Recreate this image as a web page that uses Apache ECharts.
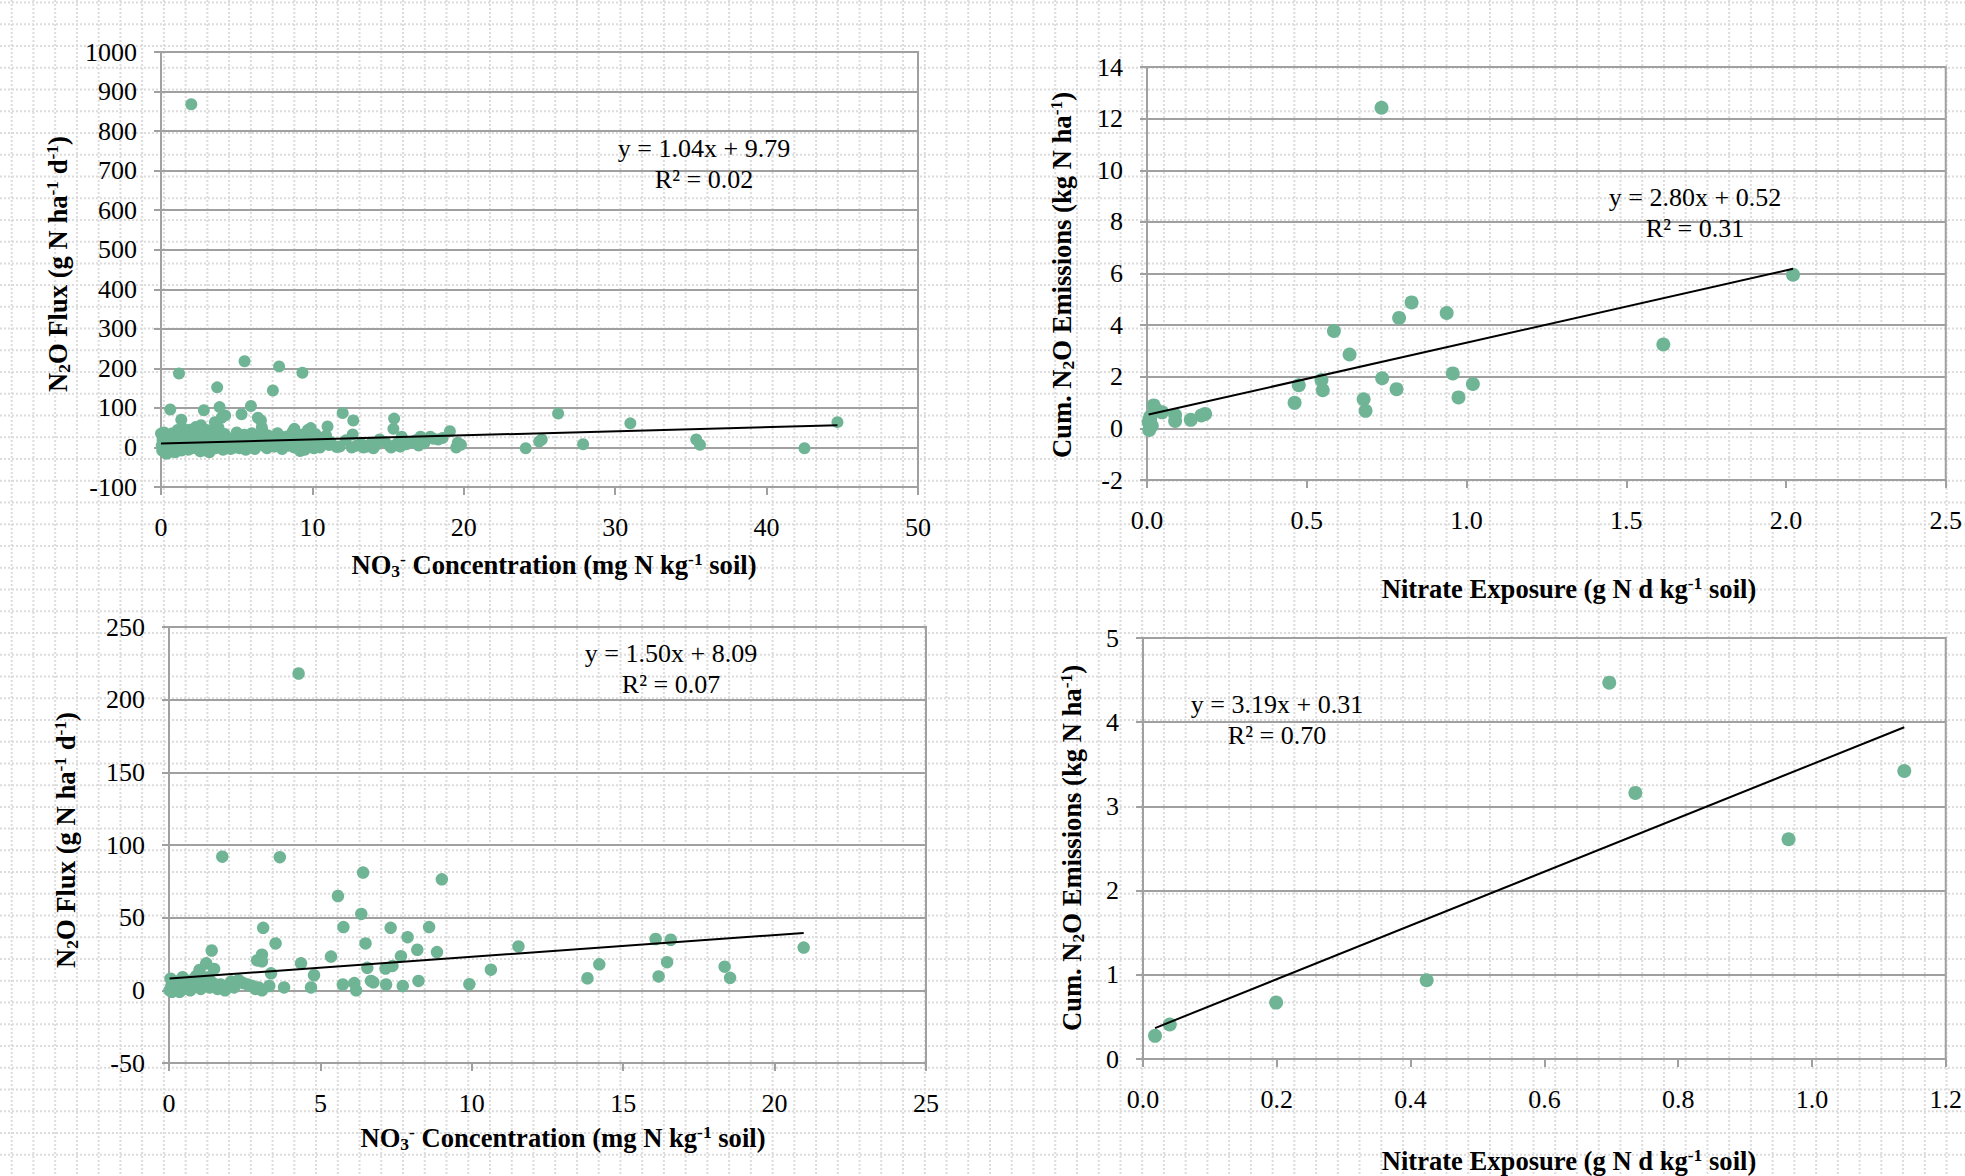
<!DOCTYPE html>
<html><head><meta charset="utf-8">
<script src="https://cdn.jsdelivr.net/npm/echarts@6/dist/echarts.min.js"></script>
<style>html,body{margin:0;padding:0;background:#fff}#c{width:1965px;height:1176px}</style>
</head><body><div id="c"></div>
<script>
// ---------- DATA ----------
// Panel 1: NO3- concentration vs N2O flux (all sites)
const fluxVsNo3All = [
[2.0,868],[1.19,187],[5.52,218],[7.8,205],[9.34,189],[3.71,152],[7.39,144],[0.61,96],[2.83,94],[3.87,102],
[5.94,105],[5.32,84],[4.24,81],[6.4,75],[6.6,68],[12.0,87],[12.7,68],[1.34,70],[2.64,56],[3.56,64],
[4.0,75],[6.66,51],[11.0,53],[15.4,73],[15.35,47],[12.66,33],[4.95,30],[8.81,47],[9.89,49],[7.87,28],
[5.67,26],[0.0,35],[0.3,30],[11.6,1],[12.6,0],[9.19,-9],[0.35,-16],[0.94,-12],[3.07,-9],[13.37,0],
[14.0,0],[14.5,18],[15.2,0],[26.23,86],[31.0,61],[44.68,64],[42.5,-2],[35.35,20],[35.6,7],[27.88,8],
[24.98,15],[25.15,20],[24.09,-2],[19.81,7],[19.5,0],[19.08,41],[18.31,20],[17.79,27],[17.14,27],[17.02,5],
[15.9,27],[14.44,20],[14.03,-2],
[0.05,5],[0.08,-8],[0.1,18],[0.12,28],[0.15,-3],[0.18,10],[0.2,38],[0.22,2],[0.25,-12],[0.28,22],
[0.3,14],[0.35,-5],[0.38,30],[0.4,6],[0.45,-14],[0.48,12],[0.5,25],[0.55,0],[0.6,-6],[0.65,16],
[0.7,35],[0.75,4],[0.8,-10],[0.85,20],[0.9,8],[0.95,-2],[1.0,28],[1.05,12],[1.1,44],[1.15,-4],
[1.2,18],[1.25,6],[1.3,32],[1.35,-8],[1.4,50],[1.45,10],[1.5,22],[1.6,0],[1.65,38],[1.7,14],
[1.8,-6],[1.85,26],[1.9,45],[2.0,8],[2.1,-2],[2.15,30],[2.2,16],[2.3,52],[2.4,4],[2.5,24],
[2.6,-10],[2.7,36],[2.75,12],[2.8,-4],[2.9,20],[3.0,44],[3.1,2],[3.2,-12],[3.3,28],[3.4,10],
[3.5,40],[3.6,-2],[3.7,18],[3.8,50],[3.9,6],[4.0,26],[4.1,-6],[4.2,34],[4.3,12],[4.4,2],
[4.5,22],[4.6,-4],[4.7,8],[4.8,16],[4.9,0],[5.0,38],[5.1,10],[5.2,-2],[5.3,24],[5.4,6],
[5.5,32],[5.6,-6],[5.7,14],[5.8,2],[5.9,20],[6.0,36],[6.1,8],[6.2,-4],[6.3,28],[6.5,12],
[6.7,42],[6.8,4],[6.9,20],[7.0,-2],[7.1,30],[7.3,10],[7.5,2],[7.6,22],[7.7,36],[7.9,6],
[8.0,-4],[8.1,16],[8.3,28],[8.4,4],[8.5,12],[8.7,40],[8.8,0],[9.0,20],[9.1,8],[9.3,32],
[9.5,-6],[9.6,14],[9.7,44],[9.8,4],[10.0,24],[10.1,-2],[10.2,34],[10.4,10],[10.5,0],[10.7,20],
[10.9,30],[11.1,6],[11.2,14],
[11.8,2],[12.2,18],[12.9,4],[13.2,10],[13.6,2],[13.9,12],[14.2,6],[14.8,14],[15.1,4],[15.6,10],
[15.8,2],[16.2,8],[16.5,14],[16.8,18],[17.4,12],[18.0,22],[18.6,24],[19.6,12]
];
// Panel 2: nitrate exposure vs cumulative N2O (all sites)
const cumVsExposureAll = [
[0.734,12.42],[2.022,5.95],[1.616,3.25],[0.828,4.88],[0.789,4.28],[0.938,4.47],[0.585,3.77],[0.634,2.86],
[0.736,1.94],[0.957,2.13],[1.020,1.72],[0.781,1.52],[0.975,1.20],[0.546,1.87],[0.550,1.48],[0.475,1.67],
[0.462,0.99],[0.678,1.13],[0.684,0.68],[0.182,0.56],[0.17,0.5],[0.137,0.33],[0.088,0.29],[0.088,0.52],
[0.047,0.62],[0.021,0.89],[0.03,0.7],[0.01,0.36],[0.007,-0.06],[0.005,0.25],[0.01,0.45],[0.015,0.1]
];
// Panel 3: NO3- concentration vs N2O flux (subset)
const fluxVsNo3Sub = [
[4.28,218],[1.76,92],[3.66,91.6],[6.41,81],[9.01,76.4],[5.58,64.9],[6.35,52.6],[3.11,43],[5.76,43.5],[7.32,43],
[8.59,43.5],[7.88,36.6],[6.49,32.3],[3.52,32.3],[11.54,30.2],[20.96,29.4],[16.07,35.3],[16.57,34.8],[1.41,27.4],[8.2,27.9],
[8.85,26.3],[7.66,23.5],[5.35,23.2],[3.07,24.5],[2.91,20.6],[3.07,20],[14.21,17.9],[16.45,19.4],[18.35,16.3],[18.53,8.6],
[13.82,8.3],[16.17,9.6],[10.63,14.2],[9.92,4.2],[4.36,18.6],[1.23,18.6],[1.49,14.7],[1.01,14],[3.37,11.7],[4.79,10.4],
[6.55,15.5],[7.15,15],[7.38,16.8],[8.24,6.5],[6.67,6.5],[6.75,5.5],[5.74,4],[6.12,5],[6.18,0],[7.17,4],
[7.72,3],[3.8,2],[4.69,2],[3.31,3],[3.07,0],
[0.02,0],[0.05,8],[0.08,3],[0.1,-1],[0.15,5],[0.2,1],[0.25,6],[0.3,2],[0.35,-1],[0.4,4],
[0.45,9],[0.5,1],[0.55,5],[0.6,3],[0.7,0],[0.75,7],[0.8,2],[0.9,10],[0.95,4],[1.05,1],
[1.1,6],[1.2,3],[1.3,9],[1.35,2],[1.45,5],[1.6,1],[1.7,4],[1.85,0],[1.95,3],[2.05,6],
[2.15,2],[2.3,7],[2.45,5],[2.6,4],[2.75,3],[2.85,1],[2.95,2]
];
// Panel 4: nitrate exposure vs cumulative N2O (subset)
const cumVsExposureSub = [
[0.018,0.275],[0.040,0.41],[0.199,0.67],[0.424,0.935],[0.697,4.47],[0.736,3.16],[0.965,2.61],[1.138,3.42]
];
// Trend lines (slope, intercept, R2) per panel
const trendSlope = [1.04, 2.80, 1.50, 3.19];
const trendIntercept = [9.79, 0.52, 8.09, 0.31];
const trendR2 = ['0.02', '0.31', '0.07', '0.70'];
// Axis ticks per panel
const xTicks = [[0,10,20,30,40,50],[0,0.5,1.0,1.5,2.0,2.5],[0,5,10,15,20,25],[0,0.2,0.4,0.6,0.8,1.0,1.2]];
const yTicks = [[-100,0,100,200,300,400,500,600,700,800,900,1000],[-2,0,2,4,6,8,10,12,14],[-50,0,50,100,150,200,250],[0,1,2,3,4,5]];
const xDecimals = [0,1,0,1];
// Axis titles (rich text markup)
const yTitles = [
 'N{sub|2}O Flux (g N ha{sup|-1} d{sup|-1})',
 'Cum. N{sub|2}O Emissions (kg N ha{sup|-1})',
 'N{sub|2}O Flux (g N ha{sup|-1} d{sup|-1})',
 'Cum. N{sub|2}O Emissions (kg N ha{sup|-1})'
];
const xTitles = [
 'NO{sub|3}{sup|-} Concentration (mg N kg{sup|-1} soil)',
 'Nitrate Exposure (g N d kg{sup|-1} soil)',
 'NO{sub|3}{sup|-} Concentration (mg N kg{sup|-1} soil)',
 'Nitrate Exposure (g N d kg{sup|-1} soil)'
];

// ---------- LAYOUT / STYLE ----------
const FONT = 'Liberation Serif';
const GREEN = '#70b496';
const GRAY = '#a0a0a0';
const TITLE_SIZE = 26.6;
const grids = [
 {left:161, top:52, width:757, height:435},
 {left:1147, top:67, width:823, height:413},
 {left:169, top:627, width:757, height:436},
 {left:1143, top:638, width:835, height:421}
];
const yTitlePos = [[58,264],[1062,275],[66,840],[1072,848]];
const xTitlePos = [[554,565],[1569,589],[563,1138],[1569,1161]];
const eqPos = [[704,149],[1695,198],[671,654],[1277,705]];
const symSize = [12,14,12.5,14];
const seriesData = [fluxVsNo3All, cumVsExposureAll, fluxVsNo3Sub, cumVsExposureSub];

const rich = {
  sub:{fontSize:17.5, fontWeight:'bold', fontFamily:FONT, verticalAlign:'bottom', lineHeight:18, fill:'#000'},
  sup:{fontSize:17.5, fontWeight:'bold', fontFamily:FONT, verticalAlign:'top', lineHeight:14, fill:'#000'}
};

const graphic = [];
// dotted background lattice
const step = 21.74;
for (let x = 11.7; x < 1965; x += step) {
  graphic.push({type:'line', z:-10, silent:true, shape:{x1:x,y1:0,x2:x,y2:1176}, style:{stroke:'#dcdcdc', lineWidth:2, lineDash:[2,2]}});
}
for (let y = 2.5; y < 1176; y += step) {
  graphic.push({type:'line', z:-10, silent:true, shape:{x1:0,y1:y,x2:1965,y2:y}, style:{stroke:'#dcdcdc', lineWidth:2, lineDash:[2,2]}});
}
for (let i = 0; i < 4; i++) {
  graphic.push({type:'text', z:10, x:yTitlePos[i][0], y:yTitlePos[i][1], rotation:Math.PI/2,
    style:{text:yTitles[i], fontSize:TITLE_SIZE, fontWeight:'bold', fontFamily:FONT, fill:'#000', align:'center', verticalAlign:'middle', lineHeight:30, rich:rich}});
  graphic.push({type:'text', z:10, x:xTitlePos[i][0], y:xTitlePos[i][1],
    style:{text:xTitles[i], fontSize:TITLE_SIZE, fontWeight:'bold', fontFamily:FONT, fill:'#000', align:'center', verticalAlign:'middle', lineHeight:30, rich:rich}});
  const eq = 'y = ' + trendSlope[i].toFixed(2) + 'x + ' + trendIntercept[i].toFixed(2) + '\nR\u00b2 = ' + trendR2[i];
  graphic.push({type:'text', z:10, x:eqPos[i][0], y:eqPos[i][1]+15,
    style:{text:eq, fontSize:26, fontFamily:FONT, fill:'#000', align:'center', verticalAlign:'middle', lineHeight:31}});
}

const xAxis = [], yAxis = [], series = [];
for (let i = 0; i < 4; i++) {
  const xt = xTicks[i], yt = yTicks[i];
  const dec = xDecimals[i];
  xAxis.push({type:'value', gridIndex:i, min:xt[0], max:xt[xt.length-1], interval:xt[1]-xt[0],
    axisLine:{show:true, onZero:false, lineStyle:{color:GRAY, width:2}},
    axisTick:{show:true, length:8, lineStyle:{color:GRAY, width:2}},
    splitLine:{show:false},
    axisLabel:{margin:27, color:'#000', fontSize:26, fontFamily:FONT, formatter:v=>v.toFixed(dec)}});
  yAxis.push({type:'value', gridIndex:i, min:yt[0], max:yt[yt.length-1], interval:yt[1]-yt[0],
    axisLine:{show:true, onZero:false, lineStyle:{color:GRAY, width:2}},
    axisTick:{show:true, length:7, lineStyle:{color:GRAY, width:2}},
    splitLine:{show:true, lineStyle:{color:GRAY, width:2}},
    axisLabel:{margin:24, color:'#000', fontSize:26, fontFamily:FONT, formatter:v=>String(v)}});
  const d = seriesData[i];
  series.push({type:'scatter', xAxisIndex:i, yAxisIndex:i, data:d, symbol:'circle', symbolSize:symSize[i],
    itemStyle:{color:GREEN, opacity:1}, z:2});
  const xs = d.map(p=>p[0]);
  const x0 = Math.min(...xs), x1 = Math.max(...xs);
  series.push({type:'line', xAxisIndex:i, yAxisIndex:i, showSymbol:false, symbol:'none', z:3,
    data:[[x0, trendSlope[i]*x0+trendIntercept[i]],[x1, trendSlope[i]*x1+trendIntercept[i]]],
    lineStyle:{color:'#000', width:2}});
}

const chart = echarts.init(document.getElementById('c'), null, {renderer:'svg'});
chart.setOption({
  animation:false,
  backgroundColor:'#fff',
  textStyle:{fontFamily:FONT},
  grid: grids.map(g=>Object.assign({show:true, borderColor:GRAY, borderWidth:2, backgroundColor:'transparent'}, g)),
  xAxis, yAxis, series, graphic
});
</script></body></html>
